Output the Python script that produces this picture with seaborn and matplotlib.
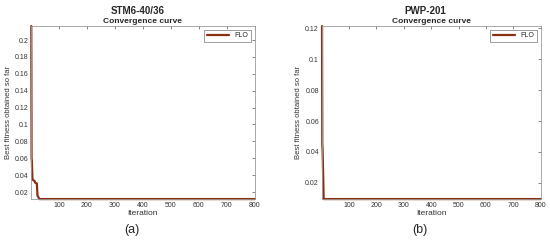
import matplotlib
matplotlib.use("Agg")
import matplotlib.pyplot as plt
import pandas as pd
import seaborn as sns

# convergence curve breakpoints
iters_a = [1, 2, 3, 5, 8, 13, 15, 21, 23, 27, 30, 800]
fit_a = [0.2166, 0.060, 0.057, 0.036, 0.034, 0.033, 0.031, 0.030, 0.016, 0.0135, 0.0117, 0.0117]

iters_b = [1, 2, 3, 7, 800]
fit_b = [0.1215, 0.045, 0.042, 0.0095, 0.0095]

x_ticks = [100, 200, 300, 400, 500, 600, 700, 800]
yticks_a = [0.02, 0.04, 0.06, 0.08, 0.1, 0.12, 0.14, 0.16, 0.18, 0.2]
yticks_b = [0.02, 0.04, 0.06, 0.08, 0.1, 0.12]

panels = [
    ("STM6-40/36", "(a)", iters_a, fit_a, yticks_a, (0.0117, 0.2166)),
    ("PWP-201", "(b)", iters_b, fit_b, yticks_b, (0.0095, 0.1215)),
]

LINE_COLOR = "#8a2f12"

sns.set_theme(style="white")
plt.rcParams["font.family"] = ["Liberation Sans", "DejaVu Sans"]

fig = plt.figure(figsize=(5.5, 2.41), dpi=100)
positions = [[0.0564, 0.174, 0.407, 0.718], [0.585, 0.174, 0.398, 0.718]]

for pos, (name, tag, its, vals, yt, ylim) in zip(positions, panels):
    ax = fig.add_axes(pos)
    df = pd.DataFrame({"Iteration": its, "fitness": vals, "algo": "FLO"})
    sns.lineplot(data=df, x="Iteration", y="fitness", hue="algo",
                 palette=[LINE_COLOR], linewidth=1.6, ax=ax, estimator=None)
    ax.lines[0].set_clip_on(False)
    ax.set_xlim(0, 800)
    ax.set_ylim(*ylim)
    ax.set_xticks(x_ticks)
    ax.set_yticks(yt)
    ax.set_yticklabels([f"{v:g}" for v in yt])
    ax.tick_params(axis="both", direction="in", length=2, width=0.5,
                   labelsize=5, colors="#555555", top=True, right=True,
                   labelcolor="#333333", pad=2)
    for s in ax.spines.values():
        s.set_color("#9a9a9a")
        s.set_linewidth(0.6)
    ax.set_xlabel("Iteration", fontsize=6, color="#333333", labelpad=1)
    ax.set_ylabel("Best fitness obtained so far", fontsize=5.5, color="#333333", labelpad=2)
    ax.set_title("Convergence curve", fontsize=6, fontweight="bold", pad=2)
    leg = ax.legend(loc="upper right", fontsize=5, handlelength=3.2,
                    frameon=True, fancybox=False, borderpad=0.4)
    leg.get_frame().set_edgecolor("#555555")
    leg.get_frame().set_linewidth(0.5)
    cx = pos[0] + pos[2] / 2 - 0.01
    fig.text(cx, 0.955, name, ha="center", va="center", fontsize=7, fontweight="bold")
    fig.text(cx - 0.01, 0.045, tag, ha="center", va="center", fontsize=9)

fig.savefig("out.png", dpi=100)
